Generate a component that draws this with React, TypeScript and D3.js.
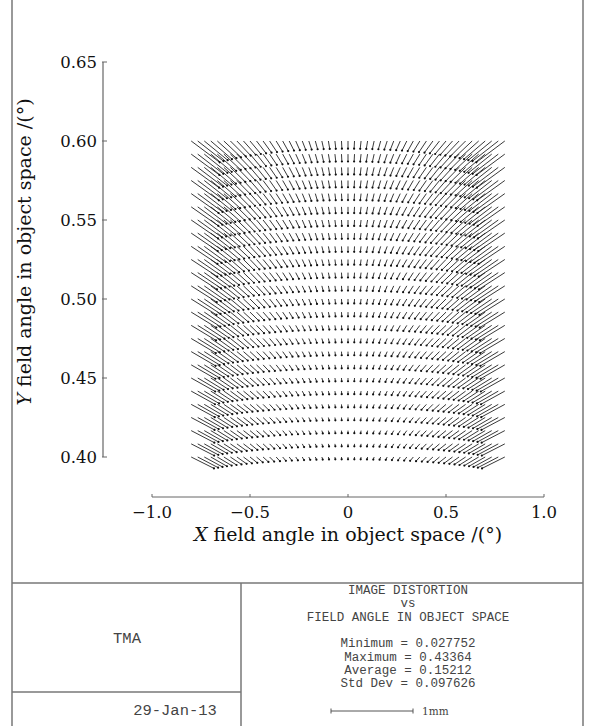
import React from 'react'
import * as d3 from 'd3'

/* page size and the plot / table frame */
const width = 592
const height = 726
const frame = { left: 12, right: 583, tableTop: 583, divider: 241, dateTop: 692 }

/* field grid in object space (degrees) */
const xAngles = [
    -0.8, -0.7667, -0.7333, -0.7, -0.6667, -0.6333, -0.6, -0.5667, -0.5333, -0.5,
    -0.4667, -0.4333, -0.4, -0.3667, -0.3333, -0.3, -0.2667, -0.2333, -0.2, -0.1667,
    -0.1333, -0.1, -0.0667, -0.0333, 0, 0.0333, 0.0667, 0.1, 0.1333, 0.1667, 0.2,
    0.2333, 0.2667, 0.3, 0.3333, 0.3667, 0.4, 0.4333, 0.4667, 0.5, 0.5333, 0.5667,
    0.6, 0.6333, 0.6667, 0.7, 0.7333, 0.7667, 0.8,
]
const yAngles = [
    0.4, 0.4083, 0.4167, 0.425, 0.4333, 0.4417, 0.45, 0.4583, 0.4667, 0.475, 0.4833,
    0.4917, 0.5, 0.5083, 0.5167, 0.525, 0.5333, 0.5417, 0.55, 0.5583, 0.5667, 0.575,
    0.5833, 0.5917, 0.6,
]
/* distortion at full field (mm), from the summary box; third order falloff */
const maxDistortion = 0.43364
const maxField = 1.0

/* axis ticks */
const xTicks = [-1, -0.5, 0, 0.5, 1]
const yTicks = [0.4, 0.45, 0.5, 0.55, 0.6, 0.65]

/* summary box text */
const titleLines = ['IMAGE DISTORTION', 'vs', 'FIELD ANGLE IN OBJECT SPACE', '']
const statLines = [
    'Minimum = 0.027752',
    'Maximum = 0.43364',
    'Average = 0.15212',
    'Std Dev = 0.097626',
]
const lensName = 'TMA'
const plotDate = '29-Jan-13'

const serif = '"DejaVu Serif", "Liberation Serif", serif'
const mono = '"Liberation Mono", "DejaVu Sans Mono", monospace'

/* scales */
const xScale = d3.scaleLinear().domain([-1, 1]).range([152, 544])
const yScale = d3.scaleLinear().domain([0.4, 0.65]).range([457, 62])
const mmScale = d3.scaleLinear().domain([0, 1]).range([0, 82])
const xAxisY = 497
const yAxisX = 103

const fmt = (d: number) => (d === 0 ? '0' : d3.format('.1f')(d))

export default function App() {
    /* one vector per grid point, pointing toward the optical axis */
    const vectors = yAngles.flatMap((fy) =>
        xAngles.map((fx) => {
            const r = Math.hypot(fx, fy)
            const len = mmScale(maxDistortion * Math.pow(r / maxField, 3))
            const x1 = xScale(fx)
            const y1 = yScale(fy)
            return {
                x1,
                y1,
                x2: x1 - (fx / r) * len,
                y2: y1 + (fy / r) * len,
            }
        })
    )

    const tableCx = 408
    const lineH = 13.3

    return (
        <svg
            width={width}
            height={height}
            style={{ position: 'absolute', left: 0, top: 0, background: '#fff' }}
        >
            {/* frame */}
            <g stroke="#777" strokeWidth={1.5} fill="none">
                <line x1={frame.left} y1={0} x2={frame.left} y2={height} />
                <line x1={frame.right} y1={0} x2={frame.right} y2={height} />
                <line x1={frame.left} y1={frame.tableTop} x2={frame.right} y2={frame.tableTop} />
                <line x1={frame.divider} y1={frame.tableTop} x2={frame.divider} y2={height} />
                <line x1={frame.left} y1={frame.dateTop} x2={frame.divider} y2={frame.dateTop} />
            </g>

            {/* distortion vectors */}
            <g stroke="#222" strokeWidth={0.9}>
                {vectors.map((d, i) => (
                    <line key={i} x1={d.x1} y1={d.y1} x2={d.x2} y2={d.y2} />
                ))}
            </g>
            <g fill="#111">
                {vectors.map((d, i) => (
                    <circle key={i} cx={d.x2} cy={d.y2} r={1.1} />
                ))}
            </g>

            {/* y axis */}
            <line
                x1={yAxisX}
                y1={yScale(0.65)}
                x2={yAxisX}
                y2={yScale(0.4)}
                stroke="#999"
                strokeWidth={1.8}
            />
            {yTicks.map((t) => (
                <g key={t}>
                    <line
                        x1={yAxisX - 1}
                        y1={yScale(t)}
                        x2={yAxisX + 4}
                        y2={yScale(t)}
                        stroke="#666"
                    />
                    <text
                        x={yAxisX - 6}
                        y={yScale(t)}
                        dy="0.36em"
                        textAnchor="end"
                        fontFamily={serif}
                        fontSize={16.5}
                        fill="#111"
                    >
                        {d3.format('.2f')(t)}
                    </text>
                </g>
            ))}
            <text
                transform="translate(31, 252) rotate(-90)"
                textAnchor="middle"
                fontFamily={serif}
                fontSize={19}
                fill="#111"
            >
                <tspan fontStyle="italic">Y</tspan> field angle in object space /(°)
            </text>

            {/* x axis */}
            <line
                x1={xScale(-1)}
                y1={xAxisY}
                x2={xScale(1)}
                y2={xAxisY}
                stroke="#666"
                strokeWidth={1}
            />
            {xTicks.map((t) => (
                <g key={t}>
                    <line
                        x1={xScale(t)}
                        y1={xAxisY}
                        x2={xScale(t)}
                        y2={xAxisY - 3}
                        stroke="#666"
                    />
                    <text
                        x={xScale(t)}
                        y={518}
                        textAnchor="middle"
                        fontFamily={serif}
                        fontSize={16.5}
                        fill="#111"
                    >
                        {fmt(t)}
                    </text>
                </g>
            ))}
            <text
                x={xScale(0)}
                y={541}
                textAnchor="middle"
                fontFamily={serif}
                fontSize={19}
                fill="#111"
            >
                <tspan fontStyle="italic">X</tspan> field angle in object space /(°)
            </text>

            {/* summary box */}
            <g fontFamily={mono} fontSize={12.5} fill="#444" textAnchor="middle">
                {titleLines.concat(statLines).map((s, i) => (
                    <text key={i} x={tableCx} y={594 + i * lineH} xmlSpace="preserve">
                        {s}
                    </text>
                ))}
            </g>
            <g fontFamily={mono} fontSize={15.5} fill="#444" textAnchor="middle">
                <text x={127} y={643}>
                    {lensName}
                </text>
                <text x={175} y={715}>
                    {plotDate}
                </text>
            </g>

            {/* 1 mm scale bar */}
            <g stroke="#555" strokeWidth={1}>
                <line x1={331} y1={711} x2={331 + mmScale(1)} y2={711} />
                <line x1={331} y1={708.5} x2={331} y2={713.5} />
                <line x1={331 + mmScale(1)} y1={708.5} x2={331 + mmScale(1)} y2={713.5} />
            </g>
            <text
                x={331 + mmScale(1) + 9}
                y={715}
                fontFamily={serif}
                fontSize={10.5}
                fill="#444"
            >
                1mm
            </text>
        </svg>
    )
}
